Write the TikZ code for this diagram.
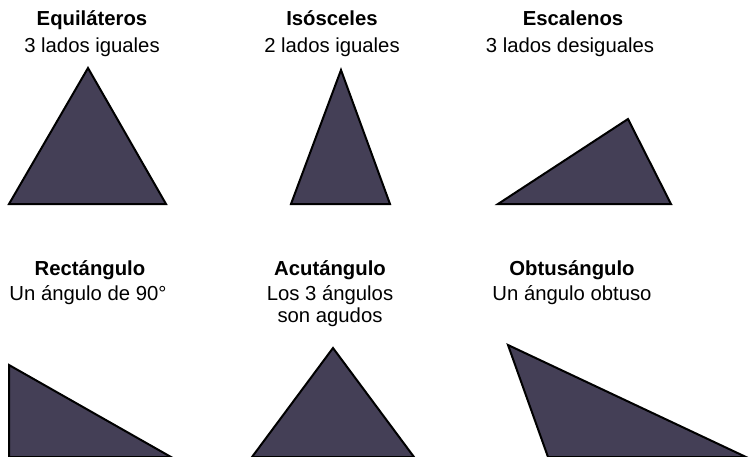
\documentclass[tikz,border=0pt]{standalone}
\usepackage{fontspec}
\setmainfont{Liberation Sans}
\definecolor{trifill}{RGB}{68,63,86}
\tikzset{
  tri/.style={fill=trifill, draw=black, line width=2pt, line join=miter},
  ttl/.style={anchor=base, inner sep=0pt, font=\fontsize{20.3}{24}\selectfont\bfseries},
  sub/.style={anchor=base, inner sep=0pt, font=\fontsize{20.3}{24}\selectfont}
}
\begin{document}
\begin{tikzpicture}[x=1pt,y=-1pt]
\useasboundingbox (0,0) rectangle (750,456);
% row 1
\node[ttl] (t1) at (92,25) {Equiláteros};
\node[sub] (s1) at (92,52) {3 lados iguales};
\draw[tri] (88,68) -- (166,204) -- (9,204) -- cycle;
\node[ttl] (t2) at (332,25) {Isósceles};
\node[sub] (s2) at (332,52) {2 lados iguales};
\draw[tri] (341,70) -- (390,204) -- (291,204) -- cycle;
\node[ttl] (t3) at (573,25) {Escalenos};
\node[sub] (s3) at (570,52) {3 lados desiguales};
\draw[tri] (628,119) -- (671,204) -- (498,204) -- cycle;
% row 2
\node[ttl] (t4) at (90,275) {Rectángulo};
\node[sub] (s4) at (88,300) {Un ángulo de 90°};
\draw[tri] (9,365) -- (171,457) -- (9,457) -- cycle;
\node[ttl] (t5) at (330,275) {Acutángulo};
\node[sub] (s5) at (330,300) {Los 3 ángulos};
\node[sub] (s5b) at (330,322) {son agudos};
\draw[tri] (333,348) -- (414,457) -- (252,457) -- cycle;
\node[ttl] (t6) at (572,275) {Obtusángulo};
\node[sub] (s6) at (572,300) {Un ángulo obtuso};
\draw[tri] (508,345) -- (746,457) -- (548,457) -- cycle;
\end{tikzpicture}
\end{document}
